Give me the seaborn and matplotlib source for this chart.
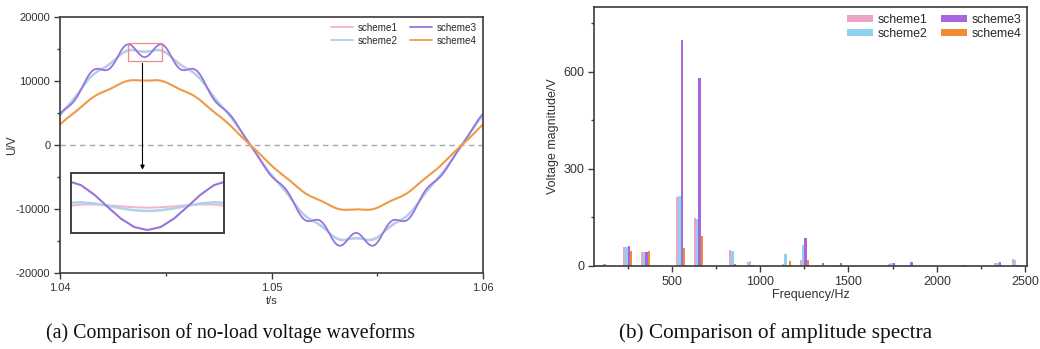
import numpy as np
import pandas as pd
import matplotlib
matplotlib.use("Agg")
import matplotlib.pyplot as plt
from matplotlib.lines import Line2D
from matplotlib.patches import Patch, Rectangle
from matplotlib.ticker import MultipleLocator
import seaborn as sns

# --- data: no-load voltage waveforms ---
T = np.linspace(1.04, 1.06, 161)
SCHEMES = ["scheme1", "scheme2", "scheme3", "scheme4"]

U_SCHEME1 = [
    4639, 5154, 5655, 6150, 6647, 7152, 7674, 8209, 8751, 9287, 9803, 10282, 10713, 11089, 11415, 11701,
    11964, 12222, 12493, 12788, 13109, 13446, 13785, 14101, 14373, 14581, 14717, 14780, 14785, 14752, 14705,
    14666, 14650,
    14666, 14705, 14752, 14785, 14780, 14717, 14581, 14373, 14101, 13785, 13446, 13109, 12788, 12493, 12222,
    11964, 11701, 11415, 11089, 10713, 10282, 9803, 9287, 8751, 8209, 7674, 7152, 6647, 6150, 5655, 5154,
    4639, 4104, 3548, 2976, 2389, 1795, 1199, 599, 0,
    -599, -1199, -1795, -2389, -2976, -3548, -4104, -4639, -5154, -5655, -6150, -6647, -7152, -7674, -8209,
    -8751, -9287, -9803, -10282, -10713, -11089, -11415, -11701, -11964, -12222, -12493, -12788, -13109,
    -13446, -13785, -14101, -14373, -14581, -14717, -14780, -14785, -14752, -14705, -14666, -14650,
    -14666, -14705, -14752, -14785, -14780, -14717, -14581, -14373, -14101, -13785, -13446, -13109, -12788,
    -12493, -12222, -11964, -11701, -11415, -11089, -10713, -10282, -9803, -9287, -8751, -8209, -7674,
    -7152, -6647, -6150, -5655, -5154, -4639, -4104, -3548, -2976, -2389, -1795, -1199, -599, 0,
    599, 1199, 1795, 2389, 2976, 3548, 4104, 4639,
]
U_SCHEME2 = [
    4662, 5160, 5638, 6107, 6585, 7083, 7609, 8166, 8741, 9316, 9868, 10373, 10812, 11175, 11468, 11706,
    11917, 12132, 12376, 12669, 13014, 13396, 13793, 14167, 14484, 14714, 14845, 14875, 14826, 14729, 14621,
    14540, 14510,
    14540, 14621, 14729, 14826, 14875, 14845, 14714, 14484, 14167, 13793, 13396, 13014, 12669, 12376, 12132,
    11917, 11706, 11468, 11175, 10812, 10373, 9868, 9316, 8741, 8166, 7609, 7083, 6585, 6107, 5638, 5160,
    4662, 4138, 3585, 3009, 2414, 1812, 1209, 603, 0,
    -603, -1209, -1812, -2414, -3009, -3585, -4138, -4662, -5160, -5638, -6107, -6585, -7083, -7609, -8166,
    -8741, -9316, -9868, -10373, -10812, -11175, -11468, -11706, -11917, -12132, -12376, -12669, -13014,
    -13396, -13793, -14167, -14484, -14714, -14845, -14875, -14826, -14729, -14621, -14540, -14510,
    -14540, -14621, -14729, -14826, -14875, -14845, -14714, -14484, -14167, -13793, -13396, -13014, -12669,
    -12376, -12132, -11917, -11706, -11468, -11175, -10812, -10373, -9868, -9316, -8741, -8166, -7609,
    -7083, -6585, -6107, -5638, -5160, -4662, -4138, -3585, -3009, -2414, -1812, -1209, -603, 0,
    603, 1209, 1812, 2414, 3009, 3585, 4138, 4662,
]
U_SCHEME3 = [
    4888, 5293, 5630, 5940, 6277, 6695, 7234, 7902, 8676, 9503, 10304, 10996, 11512, 11815, 11915, 11864,
    11748, 11672, 11731, 11994, 12474, 13140, 13905, 14655, 15274, 15659, 15761, 15583, 15188, 14683, 14196,
    13846, 13720,
    13846, 14196, 14683, 15188, 15583, 15761, 15659, 15274, 14655, 13905, 13140, 12474, 11994, 11731, 11672,
    11748, 11864, 11915, 11815, 11512, 10996, 10304, 9503, 8676, 7902, 7234, 6695, 6277, 5940, 5630, 5293,
    4888, 4397, 3821, 3186, 2520, 1857, 1215, 599, 0,
    -599, -1215, -1857, -2520, -3186, -3821, -4397, -4888, -5293, -5630, -5940, -6277, -6695, -7234, -7902,
    -8676, -9503, -10304, -10996, -11512, -11815, -11915, -11864, -11748, -11672, -11731, -11994, -12474,
    -13140, -13905, -14655, -15274, -15659, -15761, -15583, -15188, -14683, -14196, -13846, -13720,
    -13846, -14196, -14683, -15188, -15583, -15761, -15659, -15274, -14655, -13905, -13140, -12474, -11994,
    -11731, -11672, -11748, -11864, -11915, -11815, -11512, -10996, -10304, -9503, -8676, -7902, -7234,
    -6695, -6277, -5940, -5630, -5293, -4888, -4397, -3821, -3186, -2520, -1857, -1215, -599, 0,
    599, 1215, 1857, 2520, 3186, 3821, 4397, 4888,
]
U_SCHEME4 = [
    3212, 3587, 3941, 4274, 4597, 4917, 5245, 5585, 5938, 6299, 6657, 7002, 7318, 7600, 7844, 8053,
    8237, 8408, 8582, 8768, 8969, 9186, 9409, 9621, 9809, 9958, 10060, 10114, 10127, 10110, 10082,
    10059, 10050,
    10059, 10082, 10110, 10127, 10114, 10060, 9958, 9809, 9621, 9409, 9186, 8969, 8768, 8582, 8408,
    8237, 8053, 7844, 7600, 7318, 7002, 6657, 6299, 5938, 5585, 5245, 4917, 4597, 4274, 3941, 3587,
    3212, 2815, 2403, 1983, 1564, 1157, 762, 377, 0,
    -377, -762, -1157, -1564, -1983, -2403, -2815, -3212, -3587, -3941, -4274, -4597, -4917, -5245, -5585,
    -5938, -6299, -6657, -7002, -7318, -7600, -7844, -8053, -8237, -8408, -8582, -8768, -8969,
    -9186, -9409, -9621, -9809, -9958, -10060, -10114, -10127, -10110, -10082, -10059, -10050,
    -10059, -10082, -10110, -10127, -10114, -10060, -9958, -9809, -9621, -9409, -9186, -8969, -8768,
    -8582, -8408, -8237, -8053, -7844, -7600, -7318, -7002, -6657, -6299, -5938, -5585, -5245,
    -4917, -4597, -4274, -3941, -3587, -3212, -2815, -2403, -1983, -1564, -1157, -762, -377, 0,
    377, 762, 1157, 1564, 1983, 2403, 2815, 3212,
]

# --- data: amplitude spectra ---
FREQ_HZ = [100, 150, 250, 350, 550, 650, 850, 950, 1150, 1250, 1350, 1450, 1750, 1850, 2150, 2350, 2450]
AMP_SCHEME1 = [2, 1, 58, 44, 213, 148, 48, 13, 5, 20, 3, 2, 6, 3, 2, 9, 22]
AMP_SCHEME2 = [2, 1, 58, 44, 216, 146, 47, 14, 36, 65, 3, 2, 8, 3, 2, 9, 20]
AMP_SCHEME3 = [2, 1, 61, 44, 698, 582, 6, 2, 4, 88, 10, 9, 8, 11, 2, 12, 4]
AMP_SCHEME4 = [7, 3, 45, 47, 56, 94, 2, 1, 14, 20, 1, 1, 2, 1, 1, 2, 3]

LINE_COLORS = {"scheme1": "#f4b3c8", "scheme2": "#a9d4ec", "scheme3": "#9a72dc", "scheme4": "#f09a45"}
LINE_WIDTHS = {"scheme1": 1.2, "scheme2": 1.6, "scheme3": 1.3, "scheme4": 1.5}
BAR_COLORS = {"scheme1": "#eba4c6", "scheme2": "#8fd2ef", "scheme3": "#a866dc", "scheme4": "#f28a32"}

# zoomed window shown in the inset
ZOOM_T = (1.04328, 1.04472)
ZOOM_U = (13600, 16100)

SANS = ["Liberation Sans", "DejaVu Sans"]
EDGE = "#3c3c3c"


def style_axis(ax, labelsize):
    for sp in ax.spines.values():
        sp.set_color(EDGE)
        sp.set_linewidth(1.2)
    ax.tick_params(which="major", direction="out", length=4.5, width=1.0, color=EDGE,
                   labelsize=labelsize, labelcolor="#333333", pad=2.5)
    ax.tick_params(which="minor", direction="out", length=2.2, width=1.0, color=EDGE)


def main():
    sns.set_theme(style="ticks")
    plt.rcParams["font.family"] = SANS

    fig = plt.figure(figsize=(10.4, 3.49), dpi=100)
    ax1 = fig.add_axes([60 / 1040, 1 - 273 / 349, 423 / 1040, 256 / 349])
    ax2 = fig.add_axes([594 / 1040, 1 - 266 / 349, 433 / 1040, 259 / 349])

    # --- (a) waveforms ---
    wave = pd.DataFrame({
        "t": np.tile(T, 4),
        "U": np.concatenate([U_SCHEME1, U_SCHEME2, U_SCHEME3, U_SCHEME4]),
        "scheme": np.repeat(SCHEMES, len(T)),
    })
    ax1.axhline(0, color="#a8a8a8", lw=1.0, ls=(0, (4, 3)), zorder=0)
    for s in SCHEMES:
        sns.lineplot(data=wave[wave.scheme == s], x="t", y="U", color=LINE_COLORS[s],
                     linewidth=LINE_WIDTHS[s], estimator=None, sort=False, ax=ax1)
    ax1.set_xlim(1.04, 1.06)
    ax1.set_ylim(-20000, 20000)
    ax1.set_xticks([1.04, 1.05, 1.06])
    ax1.set_xticklabels(["1.04", "1.05", "1.06"])
    ax1.set_yticks([-20000, -10000, 0, 10000, 20000])
    ax1.set_yticklabels(["-20000", "-10000", "0", "10000", "20000"])
    ax1.xaxis.set_minor_locator(MultipleLocator(0.005))
    ax1.yaxis.set_minor_locator(MultipleLocator(5000))
    style_axis(ax1, 8)
    ax1.set_xlabel("t/s", fontsize=8, labelpad=2.5, color="#333333")
    ax1.set_ylabel("U/V", fontsize=8.5, color="#333333")
    ax1.yaxis.set_label_coords(-0.098, 0.5)

    handles = [Line2D([], [], color=LINE_COLORS[s], lw=1.3) for s in SCHEMES]
    ax1.legend(handles, SCHEMES, ncol=2, loc="upper right", frameon=False, fontsize=7.1,
               handlelength=2.2, handletextpad=0.5, columnspacing=1.3, labelspacing=0.3,
               borderaxespad=0.2, bbox_to_anchor=(1.0, 1.0))

    # zoom marker + arrow + inset
    ax1.add_patch(Rectangle((ZOOM_T[0] - 0.00008, 13200), 0.0016, 2800, fill=False,
                            ec="#f08a8a", lw=0.9, zorder=5))
    ax1.annotate("", xy=(1.0439, -4300), xytext=(1.0439, 13200),
                 arrowprops=dict(arrowstyle="-|>", color="black", lw=0.8, mutation_scale=6))
    axins = ax1.inset_axes([1.04052, -13740, 0.00723, 9400], transform=ax1.transData)
    for s in SCHEMES[:3]:
        sns.lineplot(data=wave[wave.scheme == s], x="t", y="U", color=LINE_COLORS[s],
                     linewidth=LINE_WIDTHS[s] + 0.2, estimator=None, sort=False, ax=axins)
    axins.set_xlim(*ZOOM_T)
    axins.set_ylim(*ZOOM_U)
    axins.set_xticks([])
    axins.set_yticks([])
    axins.set_xlabel("")
    axins.set_ylabel("")
    for sp in axins.spines.values():
        sp.set_color("#404040")
        sp.set_linewidth(1.4)

    # --- (b) spectra ---
    spec = pd.DataFrame({
        "freq": np.tile(FREQ_HZ, 4),
        "amp": np.concatenate([AMP_SCHEME1, AMP_SCHEME2, AMP_SCHEME3, AMP_SCHEME4]),
        "scheme": np.repeat(SCHEMES, len(FREQ_HZ)),
    })
    sns.barplot(data=spec, x="freq", y="amp", hue="scheme", hue_order=SCHEMES, palette=BAR_COLORS,
                native_scale=True, width=1.05, errorbar=None, saturation=1, linewidth=0,
                legend=False, ax=ax2)
    ax2.set_xlim(60, 2510)
    ax2.set_ylim(0, 800)
    ax2.set_xticks([500, 1000, 1500, 2000, 2500])
    ax2.set_yticks([0, 300, 600])
    ax2.xaxis.set_minor_locator(MultipleLocator(250))
    ax2.yaxis.set_minor_locator(MultipleLocator(150))
    style_axis(ax2, 9)
    ax2.set_xlabel("Frequency/Hz", fontsize=9, labelpad=1, color="#333333")
    ax2.set_ylabel("Voltage magnitude/V", fontsize=9, labelpad=3, color="#333333")

    bar_handles = [Patch(facecolor=BAR_COLORS[s], edgecolor="none") for s in SCHEMES]
    ax2.legend(bar_handles, SCHEMES, ncol=2, loc="upper right", frameon=False, fontsize=8.8,
               handlelength=2.1, handleheight=0.5, handletextpad=0.4, columnspacing=1.15,
               labelspacing=0.2, borderaxespad=0.05, bbox_to_anchor=(1.0, 0.995))

    # captions
    fig.text(230 / 1040, 1 - 333 / 349, "(a) Comparison of no-load voltage waveforms",
             ha="center", va="center", fontsize=14.3, family="Liberation Serif", color="#111111")
    fig.text(776 / 1040, 1 - 333 / 349, "(b) Comparison of amplitude spectra",
             ha="center", va="center", fontsize=15.3, family="Liberation Serif", color="#111111")

    fig.savefig("out.png", dpi=100, facecolor="white")


if __name__ == "__main__":
    main()
